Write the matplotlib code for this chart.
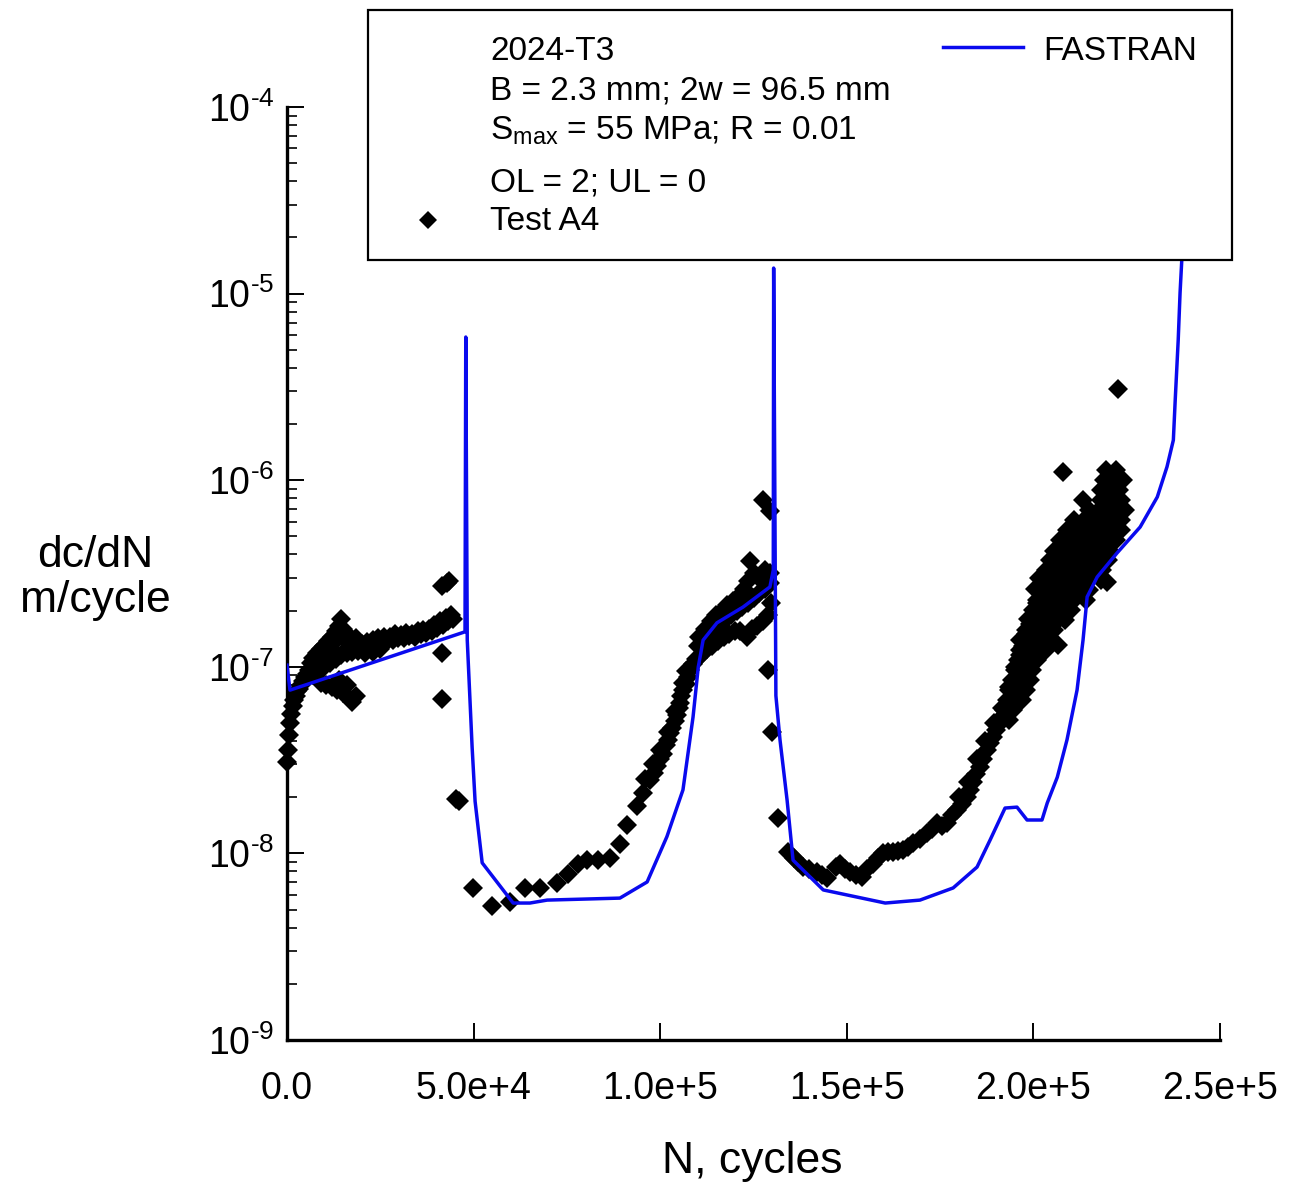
import matplotlib
matplotlib.use('Agg')
import matplotlib.pyplot as plt
from matplotlib.patches import Rectangle
from matplotlib.lines import Line2D
from matplotlib.ticker import LogLocator, NullFormatter, FixedLocator, FixedFormatter

plt.rcParams['font.family'] = ['Liberation Sans', 'DejaVu Sans']
plt.rcParams['mathtext.fontset'] = 'custom'
plt.rcParams['mathtext.rm'] = 'Liberation Sans'
plt.rcParams['mathtext.it'] = 'Liberation Sans:italic'
plt.rcParams['mathtext.bf'] = 'Liberation Sans:bold'

# ---------------- data ----------------
x_ticks = [0, 5e4, 1e5, 1.5e5, 2e5, 2.5e5]
x_tick_labels = ["0.0", "5.0e+4", "1.0e+5", "1.5e+5", "2.0e+5", "2.5e+5"]
y_ticks = [1e-9, 1e-8, 1e-7, 1e-6, 1e-5, 1e-4]
y_tick_labels = [r'$\mathregular{10^{‐9}}$', r'$\mathregular{10^{‐8}}$', r'$\mathregular{10^{‐7}}$',
                 r'$\mathregular{10^{‐6}}$', r'$\mathregular{10^{‐5}}$', r'$\mathregular{10^{‐4}}$']

# FASTRAN prediction
fastran_N = [0, 800, 47700, 47900, 48300, 49600, 50400, 52300, 60600, 65100,
             69700, 89200, 96500, 101800, 106100, 108800, 110200, 111500, 115200, 122200,
             129400, 130300, 130400, 131000, 132100, 134000, 135600, 143700, 152800, 160300,
             169600, 178500, 184900, 188400, 192400, 195600, 198300, 202300, 203700, 206400,
             209000, 211700, 213300, 214400, 217100, 222400, 228600, 233200, 235800, 237500,
             238000, 238800, 239300, 239900]
fastran_rate = [1.02e-7, 7.5e-8, 1.54e-7, 5.85e-6, 1.39e-7, 3.72e-8, 1.9e-8, 8.9e-9, 5.42e-9, 5.42e-9,
                5.62e-9, 5.76e-9, 7.03e-9, 1.23e-8, 2.19e-8, 5.38e-8, 9.97e-8, 1.39e-7, 1.72e-7, 2.09e-7,
                2.68e-7, 3.3e-7, 1.37e-5, 7.0e-8, 4.06e-8, 1.93e-8, 9.2e-9, 6.37e-9, 5.83e-9, 5.42e-9,
                5.62e-9, 6.53e-9, 8.45e-9, 1.18e-8, 1.75e-8, 1.77e-8, 1.51e-8, 1.51e-8, 1.86e-8, 2.56e-8,
                4.06e-8, 7.51e-8, 1.39e-7, 2.37e-7, 3.03e-7, 4.07e-7, 5.61e-7, 8.13e-7, 1.18e-6, 1.64e-6,
                2.69e-6, 5.63e-6, 1.01e-5, 1.71e-5]

# Test A4 - segment 1 (before first overload)
test1_N = [0, 300, 600, 900, 1200, 1500, 1900, 2300, 2700, 3200, 3700, 4300, 4800, 5400, 6000,
           6500, 7000, 7500, 8000, 8500, 9000, 9500, 10000, 10500, 11000, 11500, 12000, 12500,
           13000, 13500, 14000, 14500, 15000, 15500, 16000, 16500, 17000, 17500, 18000, 18500, 19000,
           7000, 8500, 10000, 11500, 13000, 14500, 16000, 17500, 19000,
           9000, 10500, 12000, 13500, 15000, 16500, 17500, 18500, 14000, 16000,
           20000, 20800, 21500, 22300, 23000, 23800, 24500, 25300, 26000, 26800,
           27500, 28300, 29000, 29800, 30500, 31300, 32000, 32800, 33500, 34300,
           35000, 35800, 36500, 37300, 38000, 38800, 39500, 40300, 41000, 41800,
           42500, 43200, 44000, 44500,
           21000, 23000, 25000,
           41500, 42800, 43500, 41500, 41500, 45200, 46200]
test1_rate = [3.1e-8, 3.6e-8, 4.3e-8, 5.0e-8, 5.6e-8, 6.2e-8, 6.6e-8, 7.0e-8, 7.4e-8, 7.6e-8,
              8.0e-8, 8.4e-8, 8.8e-8, 9.2e-8, 9.6e-8,
              1.05e-7, 1.12e-7, 1.02e-7, 1.18e-7, 1.08e-7, 1.25e-7, 1.15e-7, 1.3e-7, 1.2e-7, 1.38e-7,
              1.28e-7, 1.45e-7, 1.35e-7, 1.55e-7, 1.42e-7, 1.65e-7, 1.8e-7, 1.6e-7, 1.5e-7, 1.4e-7,
              1.32e-7, 1.45e-7, 1.38e-7, 1.3e-7, 1.42e-7, 1.35e-7,
              9.0e-8, 9.5e-8, 1.0e-7, 1.05e-7, 1.1e-7, 1.15e-7, 1.18e-7, 1.2e-7, 1.22e-7,
              8.2e-8, 8.0e-8, 7.8e-8, 7.5e-8, 7.2e-8, 6.8e-8, 6.5e-8, 7.0e-8, 8.5e-8, 8.0e-8,
              1.32e-7, 1.25e-7, 1.36e-7, 1.3e-7, 1.4e-7, 1.33e-7, 1.42e-7, 1.36e-7, 1.45e-7, 1.38e-7,
              1.45e-7, 1.4e-7, 1.5e-7, 1.42e-7, 1.48e-7, 1.43e-7, 1.52e-7, 1.46e-7, 1.5e-7, 1.45e-7,
              1.55e-7, 1.5e-7, 1.57e-7, 1.52e-7, 1.6e-7, 1.55e-7, 1.68e-7, 1.62e-7, 1.75e-7, 1.68e-7,
              1.82e-7, 1.75e-7, 1.9e-7, 1.8e-7,
              1.18e-7, 1.2e-7, 1.25e-7,
              2.7e-7, 2.8e-7, 2.9e-7, 1.19e-7, 6.7e-8, 1.95e-8, 1.9e-8]

# segment 2 (retardation and recovery after first overload)
test2_N = [49800, 54900, 59800, 63800, 67800, 72400, 75300, 78000, 80400, 83300,
           86600, 89200, 91100, 93800, 95400, 97300, 98300, 99200, 100000, 100800,
           101500, 102100, 102700, 103200, 103900, 104500, 105000, 105300, 105700, 106100,
           106800, 107500, 108100, 108800, 109500, 110100,
           96000, 98000, 100000, 102000, 104000, 106000, 107000]
test2_rate = [6.5e-9, 5.2e-9, 5.5e-9, 6.5e-9, 6.5e-9, 6.9e-9, 7.8e-9, 8.8e-9, 9.2e-9, 9.2e-9,
              9.4e-9, 1.12e-8, 1.42e-8, 1.8e-8, 2.1e-8, 2.47e-8, 2.7e-8, 2.95e-8, 3.2e-8, 3.4e-8,
              3.8e-8, 4.05e-8, 4.4e-8, 4.7e-8, 5.1e-8, 5.5e-8, 6.0e-8, 6.4e-8, 7.0e-8, 7.5e-8,
              8.1e-8, 8.8e-8, 9.6e-8, 1.04e-7, 1.1e-7, 1.12e-7,
              2.5e-8, 3.0e-8, 3.6e-8, 4.5e-8, 5.8e-8, 8.2e-8, 9.5e-8]

# segment 3 (peak before second overload)
test3_N = [110500, 112000, 113500, 115000, 116500, 118000, 119500, 121000, 122500, 123500,
           124000, 125000, 126500, 128000, 129500,
           110000, 111500, 113000, 114500, 116000, 117500, 119000, 120500, 122000, 123500,
           125000, 126500, 128000, 129500,
           111000, 112500, 114000, 115500, 117000, 118500, 120000, 121500, 123300, 124500,
           126000, 127500, 129000, 129800,
           127600, 129400, 128900, 130000, 131600]
test3_rate = [1.45e-7, 1.6e-7, 1.75e-7, 1.9e-7, 2.0e-7, 2.15e-7, 2.25e-7, 2.4e-7, 2.6e-7, 2.9e-7,
              3.7e-7, 3.2e-7, 3.0e-7, 3.3e-7, 3.2e-7,
              1.3e-7, 1.4e-7, 1.5e-7, 1.6e-7, 1.7e-7, 1.8e-7, 1.9e-7, 2.0e-7, 2.1e-7, 2.2e-7,
              2.35e-7, 2.5e-7, 2.6e-7, 2.8e-7,
              1.15e-7, 1.25e-7, 1.3e-7, 1.38e-7, 1.45e-7, 1.5e-7, 1.55e-7, 1.55e-7, 1.45e-7, 1.6e-7,
              1.65e-7, 1.75e-7, 1.9e-7, 2.2e-7,
              7.8e-7, 6.8e-7, 9.6e-8, 4.5e-8, 1.55e-8]

# segment 4 (retardation after second overload)
test4_N = [134300, 135800, 137000, 138300, 140000, 142000, 143300, 144700, 147000, 148200,
           149500, 150900, 152500, 154100, 155500, 157000, 158400, 159700, 161000, 162400,
           163800, 165100, 166500, 167800, 169600, 171500, 172800, 174200, 175500]
test4_rate = [1.02e-8, 9.5e-9, 9.0e-9, 8.45e-9, 8.2e-9, 7.95e-9, 7.7e-9, 7.4e-9, 8.5e-9, 8.8e-9,
              8.3e-9, 7.95e-9, 7.7e-9, 7.5e-9, 8.2e-9, 8.8e-9, 9.5e-9, 1.0e-8, 1.02e-8, 1.02e-8,
              1.03e-8, 1.04e-8, 1.08e-8, 1.13e-8, 1.2e-8, 1.28e-8, 1.35e-8, 1.45e-8, 1.4e-8]

# segment 5 (recovery, lower band)
test5_N = [176900, 178200, 179600, 180900, 182200, 183000, 183800, 184700, 185700, 186600,
           187600, 188400, 189200, 190100, 191100, 192000, 193000, 193800, 194600, 195300,
           196000, 196400, 197200, 198000, 199100, 200000, 200900, 201800,
           180000, 182500, 185000, 187000, 189500, 191500, 193500, 195000, 196500, 198500,
           200500, 201500]
test5_rate = [1.45e-8, 1.6e-8, 1.71e-8, 1.85e-8, 2.0e-8, 2.2e-8, 2.4e-8, 2.65e-8, 2.9e-8, 3.2e-8,
              3.6e-8, 3.9e-8, 4.2e-8, 4.6e-8, 5.0e-8, 5.5e-8, 5.9e-8, 6.6e-8, 7.0e-8, 8.5e-8,
              1.0e-7, 1.15e-7, 1.3e-7, 1.5e-7, 1.7e-7, 1.9e-7, 2.2e-7, 2.5e-7,
              2.0e-8, 2.4e-8, 3.2e-8, 4.0e-8, 5.0e-8, 6.0e-8, 7.8e-8, 1.0e-7, 1.4e-7, 1.8e-7,
              2.6e-7, 3.0e-7]

# segment 6 (dense cluster before failure)
test6_N = [219500, 222000,
           219000, 221500, 224000,
           218000, 220500, 223000,
           218000, 220500, 223500,
           215000, 217500, 220000, 222500, 224500,
           211000, 213500, 216000, 218500, 221000, 223500,
           209000, 211500, 214000, 216500, 219000, 221500, 223500,
           207000, 209500, 212000, 214500, 217000, 219500, 222000,
           205500, 208000, 210500, 213000, 215500, 218000, 220500,
           204500, 207000, 209500, 212000, 214500, 217000, 220000,
           203500, 206000, 208500, 211000, 213500, 216000, 218500,
           202500, 205000, 207500, 210000, 212500, 215000, 218000,
           202000, 204500, 207000, 209500, 212000, 215000,
           201000, 203500, 206000, 208500, 211000, 214000,
           200000, 202500, 205000, 207500, 210000,
           199000, 201500, 204000, 206500, 208500,
           198000, 200500, 203000, 205500,
           197200, 199500, 202000, 204500,
           196500, 199000, 201500, 203500,
           196000, 198500, 201000,
           195000, 197500, 199500,
           194300, 196500, 199000,
           193500, 196000, 198000,
           193000, 195000, 197000,
           192000, 194500,
           191000, 193500,
           208000, 213300, 206600, 219800, 222700]
test6_rate = [1.13e-6, 1.13e-6,
              1.0e-6, 1.0e-6, 1.0e-6,
              8.9e-7, 8.9e-7, 8.9e-7,
              7.8e-7, 7.8e-7, 7.8e-7,
              6.9e-7, 6.9e-7, 6.9e-7, 6.9e-7, 6.9e-7,
              6.1e-7, 6.1e-7, 6.1e-7, 6.1e-7, 6.1e-7, 6.1e-7,
              5.4e-7, 5.4e-7, 5.4e-7, 5.4e-7, 5.4e-7, 5.4e-7, 5.4e-7,
              4.8e-7, 4.8e-7, 4.8e-7, 4.8e-7, 4.8e-7, 4.8e-7, 4.8e-7,
              4.2e-7, 4.2e-7, 4.2e-7, 4.2e-7, 4.2e-7, 4.2e-7, 4.2e-7,
              3.73e-7, 3.73e-7, 3.73e-7, 3.73e-7, 3.73e-7, 3.73e-7, 3.73e-7,
              3.3e-7, 3.3e-7, 3.3e-7, 3.3e-7, 3.3e-7, 3.3e-7, 3.3e-7,
              2.92e-7, 2.92e-7, 2.92e-7, 2.92e-7, 2.92e-7, 2.92e-7, 2.92e-7,
              2.58e-7, 2.58e-7, 2.58e-7, 2.58e-7, 2.58e-7, 2.58e-7,
              2.28e-7, 2.28e-7, 2.28e-7, 2.28e-7, 2.28e-7, 2.28e-7,
              2.01e-7, 2.01e-7, 2.01e-7, 2.01e-7, 2.01e-7,
              1.78e-7, 1.78e-7, 1.78e-7, 1.78e-7, 1.78e-7,
              1.57e-7, 1.57e-7, 1.57e-7, 1.57e-7,
              1.39e-7, 1.39e-7, 1.39e-7, 1.39e-7,
              1.23e-7, 1.23e-7, 1.23e-7, 1.23e-7,
              1.09e-7, 1.09e-7, 1.09e-7,
              9.6e-8, 9.6e-8, 9.6e-8,
              8.5e-8, 8.5e-8, 8.5e-8,
              7.5e-8, 7.5e-8, 7.5e-8,
              6.6e-8, 6.6e-8, 6.6e-8,
              5.9e-8, 5.9e-8,
              5.2e-8, 5.2e-8,
              1.1e-6, 7.8e-7, 1.31e-7, 2.84e-7, 3.1e-6]

legend_lines = ["2024-T3", "B = 2.3 mm; 2w = 96.5 mm",
                r"S$_{\mathregular{max}}$ = 55 MPa; R = 0.01", "OL = 2; UL = 0"]

# ---------------- figure ----------------
W, H = 1290, 1183
fig = plt.figure(figsize=(W / 100, H / 100), dpi=100)
ax = fig.add_axes([287 / W, 1 - 1040 / H, (1220 - 287) / W, (1040 - 107) / H])

test_N = test1_N + test2_N + test3_N + test4_N + test5_N + test6_N
test_rate = test1_rate + test2_rate + test3_rate + test4_rate + test5_rate + test6_rate

MS = 10.5
ax.plot(test_N, test_rate, linestyle='none', marker='D', ms=MS, mfc='black',
        mec='black', mew=0, zorder=2, clip_on=False)
ax.plot(fastran_N, fastran_rate, color='#0a0aee', lw=2.5, zorder=3)

ax.set_yscale('log')
ax.set_xlim(0, 2.5e5)
ax.set_ylim(1e-9, 1e-4)

ax.xaxis.set_major_locator(FixedLocator(x_ticks))
ax.xaxis.set_major_formatter(FixedFormatter(x_tick_labels))
ax.yaxis.set_major_locator(FixedLocator(y_ticks))
ax.yaxis.set_major_formatter(FixedFormatter(y_tick_labels))
ax.yaxis.set_minor_locator(LogLocator(base=10, subs=[2, 3, 4, 5, 6, 7, 8, 9], numticks=20))
ax.yaxis.set_minor_formatter(NullFormatter())
ax.xaxis.set_minor_locator(FixedLocator([]))

for s in ['top', 'right']:
    ax.spines[s].set_visible(False)
for s in ['left', 'bottom']:
    ax.spines[s].set_linewidth(2.4)

ax.tick_params(axis='x', which='major', direction='in', length=12, width=1.4,
               labelsize=27, pad=22, colors='black')
ax.tick_params(axis='y', which='major', direction='in', length=12, width=1.4,
               labelsize=27, pad=9)
ax.tick_params(axis='y', which='minor', direction='in', length=7, width=1.2)

# axis labels
fig.text(95 / W, 1 - 578 / H, "dc/dN\nm/cycle", ha='center', va='center',
         fontsize=32, linespacing=1.1)
fig.text(752 / W, 1 - 1173 / H, "N, cycles", ha='center', va='baseline', fontsize=32)

# legend box
box = Rectangle((368 / W, 1 - 260 / H), (1232 - 368) / W, (260 - 10) / H,
                transform=fig.transFigure, facecolor='white', edgecolor='black',
                linewidth=1.6, zorder=5)
fig.add_artist(box)
baselines = [60, 100, 140, 192]
for txt, b in zip(legend_lines, baselines):
    fig.text(490 / W, 1 - b / H, txt, ha='left', va='baseline', fontsize=24, zorder=6)
fig.text(490 / W, 1 - 230 / H, "Test A4", ha='left', va='baseline', fontsize=24, zorder=6)
fig.add_artist(Line2D([428 / W], [1 - 220 / H], transform=fig.transFigure, marker='D',
                      ms=MS * 0.85, mfc='black', mec='black', mew=0, linestyle='none', zorder=6))
fig.add_artist(Line2D([943 / W, 1023 / W], [1 - 47 / H, 1 - 47 / H], transform=fig.transFigure,
                      color='#0a0aee', lw=2.5, zorder=6))
fig.text(1043 / W, 1 - 60 / H, "FASTRAN", ha='left', va='baseline', fontsize=24, zorder=6)

fig.savefig('out.png', dpi=100)
